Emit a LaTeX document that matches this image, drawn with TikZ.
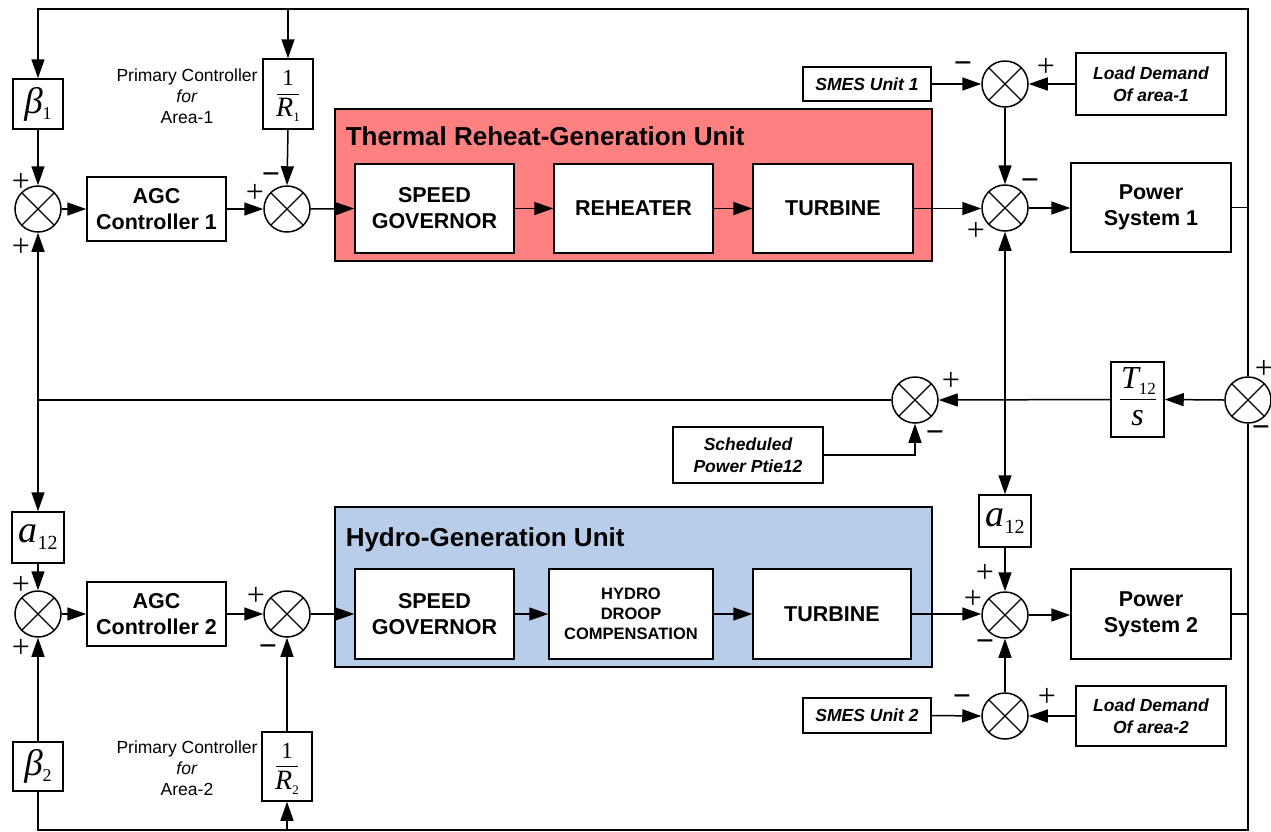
\documentclass[tikz,border=0pt]{standalone}
\usepackage{fontspec}
\setmainfont{Liberation Sans}
\newfontfamily\serif{Liberation Serif}
\usetikzlibrary{arrows.meta,calc}
\definecolor{thermal}{HTML}{FF8080}
\definecolor{hydro}{HTML}{B8CDEA}
\begin{document}
\begin{tikzpicture}[x=1pt,y=-1pt,line width=1.5pt,
  blk/.style={draw,fill=white,inner sep=0pt,align=center,font=\fontsize{21.5}{26}\selectfont\bfseries},
  smallblk/.style={blk,font=\fontsize{16.5}{20}\selectfont\bfseries},
  ibox/.style={draw,fill=white,inner sep=0pt,align=center,font=\fontsize{17.5}{22}\selectfont\bfseries\itshape},
  mbox/.style={draw,fill=white,inner sep=0pt,font=\serif},
  unitbox/.style={draw,inner sep=0pt},
  unittitle/.style={anchor=base west,inner sep=0pt,font=\fontsize{26}{30}\selectfont\bfseries},
  sumj/.style={circle,draw,fill=white,minimum size=46pt,inner sep=0pt,
    path picture={\draw[line width=1.2pt] (path picture bounding box.north west) -- (path picture bounding box.south east)
      (path picture bounding box.north east) -- (path picture bounding box.south west);}},
  arr/.style={-{Triangle[length=19pt,width=13pt]}},
  sgn/.style={inner sep=0pt,font=\serif\fontsize{32}{32}\selectfont},
  msgn/.style={sgn,font=\serif\bfseries\fontsize{32}{32}\selectfont},
  note/.style={align=center,inner sep=0pt,font=\fontsize{17.5}{21}\selectfont},
  fracline/.style={line width=0.9pt}
]
\useasboundingbox (0,0) rectangle (1271,831);
\fill[white] (0,0) rectangle (1271,831);

% generation unit backgrounds
\node[unitbox,fill=thermal,minimum width=597pt,minimum height=152pt] (thu) at (633.5,185) {};
\node[unitbox,fill=hydro,minimum width=597pt,minimum height=160pt] (hyu) at (633.5,587) {};
\node[unittitle] (tht) at (345,145) {Thermal Reheat-Generation Unit};
\node[unittitle] (hyt) at (345,546) {Hydro-Generation Unit};

% ---------------- Area 1 ----------------
\node[mbox,minimum width=50pt,minimum height=50pt] (b1) at (38,104) {\fontsize{37}{37}\selectfont\itshape β\upshape\raisebox{-6pt}{\fontsize{18}{18}\selectfont 1}};
\node[mbox,minimum width=50pt,minimum height=70pt] (r1) at (288,94) {};
\node[inner sep=0pt,font=\serif\fontsize{23}{23}\selectfont] (r1n) at ([yshift=16pt]r1.center) {1};
\node[inner sep=0pt,font=\serif\fontsize{28}{28}\selectfont] (r1d) at ([yshift=-16pt]r1.center) {\itshape R\upshape\raisebox{-5pt}{\fontsize{13}{13}\selectfont 1}};
\draw[fracline] ([xshift=-11pt]r1.center) -- ([xshift=11pt]r1.center);
\node[note] (pc1) at (187,96) {Primary Controller\\\textit{for}\\Area-1};

\node[sumj] (s1) at (38,209) {};
\node[blk,minimum width=139pt,minimum height=64pt] (agc1) at (156.5,209) {AGC\\Controller 1};
\node[sumj] (s2) at (287,209) {};
\node[blk,minimum width=159pt,minimum height=89pt] (sg1) at (434.5,208.5) {SPEED\\GOVERNOR};
\node[blk,minimum width=159pt,minimum height=89pt] (rh) at (633.5,208.5) {REHEATER};
\node[blk,minimum width=160pt,minimum height=89pt] (tb1) at (833,208.5) {TURBINE};
\node[sumj] (s3) at (1005,208) {};
\node[blk,minimum width=160pt,minimum height=89pt] (ps1) at (1151,207.5) {Power\\System 1};
\node[sumj] (s4) at (1005,84) {};
\node[ibox,minimum width=128pt,minimum height=34pt] (sm1) at (867,84) {SMES Unit 1};
\node[ibox,minimum width=150pt,minimum height=62pt] (ld1) at (1151,84) {Load Demand\\Of area-1};

% ---------------- tie line ----------------
\node[sumj] (rs) at (1248,400) {};
\node[mbox,minimum width=53pt,minimum height=75pt] (t12) at (1137.5,399.5) {};
\node[inner sep=0pt,font=\serif\fontsize{32}{32}\selectfont] (t12n) at ([yshift=18pt,xshift=1pt]t12.center) {\itshape T\upshape\raisebox{-6pt}{\fontsize{17}{17}\selectfont 12}};
\node[inner sep=0pt,font=\serif\fontsize{32}{32}\selectfont] (t12d) at ([yshift=-19pt]t12.center) {\itshape s};
\draw[fracline] ([xshift=-18pt]t12.center) -- ([xshift=18pt]t12.center);
\node[sumj] (s9) at (915,400) {};
\node[ibox,minimum width=150pt,minimum height=56pt] (sch) at (748,455) {Scheduled\\Power Ptie12};

% ---------------- Area 2 ----------------
\node[mbox,minimum width=52pt,minimum height=51pt] (a12l) at (38,537.5) {\fontsize{38}{38}\selectfont\itshape a\upshape\raisebox{-7pt}{\fontsize{20}{20}\selectfont 12}};
\node[sumj] (s5) at (38,614) {};
\node[blk,minimum width=139pt,minimum height=64pt] (agc2) at (156.5,614) {AGC\\Controller 2};
\node[sumj] (s6) at (287,614) {};
\node[blk,minimum width=159pt,minimum height=90pt] (sg2) at (434.5,614) {SPEED\\GOVERNOR};
\node[smallblk,minimum width=164pt,minimum height=90pt] (hd) at (631,614) {HYDRO\\DROOP\\COMPENSATION};
\node[blk,minimum width=158pt,minimum height=90pt] (tb2) at (832,614) {TURBINE};
\node[sumj] (s7) at (1005,615) {};
\node[mbox,minimum width=52pt,minimum height=52pt] (a12r) at (1005,521) {\fontsize{38}{38}\selectfont\itshape a\upshape\raisebox{-7pt}{\fontsize{20}{20}\selectfont 12}};
\node[blk,minimum width=160pt,minimum height=90pt] (ps2) at (1151,614) {Power\\System 2};
\node[sumj] (s8) at (1005,716) {};
\node[ibox,minimum width=128pt,minimum height=35pt] (sm2) at (867,715.5) {SMES Unit 2};
\node[ibox,minimum width=150pt,minimum height=60pt] (ld2) at (1151,716) {Load Demand\\Of area-2};
\node[mbox,minimum width=50pt,minimum height=49pt] (b2) at (38,766.5) {\fontsize{37}{37}\selectfont\itshape β\upshape\raisebox{-6pt}{\fontsize{18}{18}\selectfont 2}};
\node[mbox,minimum width=50pt,minimum height=69pt] (r2) at (287,766.5) {};
\node[inner sep=0pt,font=\serif\fontsize{23}{23}\selectfont] (r2n) at ([yshift=16pt]r2.center) {1};
\node[inner sep=0pt,font=\serif\fontsize{28}{28}\selectfont] (r2d) at ([yshift=-16pt]r2.center) {\itshape R\upshape\raisebox{-5pt}{\fontsize{13}{13}\selectfont 2}};
\draw[fracline] ([xshift=-11pt]r2.center) -- ([xshift=11pt]r2.center);
\node[note] (pc2) at (187,768) {Primary Controller\\\textit{for}\\Area-2};

% frame coordinates
\coordinate (tl) at (38,9);
\coordinate (tr) at (1250,9);
\coordinate (bl) at (38,830);
\coordinate (br) at (1250,830);
\coordinate (lj) at (38,400);
\coordinate (vj) at (1005,400);

% ---------------- connectors area 1 ----------------
\draw[arr] (rs.north) -- (rs.north |- tr) -- (tl) -- (b1.north);
\draw[arr] (r1.north |- tl) -- (r1.north);
\draw (ps1.east) -- (ps1.east -| rs);
\draw[arr] (b1.south) -- (s1.north);
\draw[arr] (s1.east) -- (agc1.west);
\draw[arr] (agc1.east) -- (s2.west);
\draw[arr] (r1.south) -- (s2.north);
\draw[arr] (s2.east) -- (sg1.west);
\draw[arr] (sg1.east) -- (rh.west);
\draw[arr] (rh.east) -- (tb1.west);
\draw[arr] (tb1.east) -- (tb1.east -| s3.west);
\draw[arr] (s3.east) -- (s3.east -| ps1.west);
\draw[arr] (sm1.east) -- (s4.west);
\draw[arr] (ld1.west) -- (s4.east);
\draw[arr] (s4.south) -- (s3.north);

% ---------------- tie line connectors ----------------
\draw[arr] (rs.west) -- (t12.east);
\draw[arr] (t12.west) -- (s9.east);
\draw[arr] (vj) -- (s3.south);
\draw[arr] (vj) -- (a12r.north);
\draw[arr] (sch.east) -| (s9.south);
\draw (s9.west) -- (lj);
\draw[arr] (lj) -- (s1.south);
\draw[arr] (lj) -- (a12l.north);

% ---------------- connectors area 2 ----------------
\draw[arr] (a12l.south) -- (s5.north);
\draw[arr] (b2.north) -- (s5.south);
\draw[arr] (s5.east) -- (agc2.west);
\draw[arr] (agc2.east) -- (s6.west);
\draw[arr] (r2.north) -- (s6.south);
\draw[arr] (s6.east) -- (sg2.west);
\draw[arr] (sg2.east) -- (hd.west);
\draw[arr] (hd.east) -- (tb2.west);
\draw[arr] (tb2.east) -- (tb2.east -| s7.west);
\draw[arr] (a12r.south) -- (s7.north);
\draw[arr] (s7.east) -- (s7.east -| ps2.west);
\draw[arr] (sm2.east) -- (s8.west);
\draw[arr] (ld2.west) -- (s8.east);
\draw[arr] (s8.north) -- (s7.south);
\draw (ps2.east) -- (ps2.east -| rs);
\draw (rs.south) -- (rs.south |- br) -- (bl) -- (b2.south);
\draw[arr] (r2.south |- bl) -- (r2.south);

% ---------------- signs ----------------
\node[sgn] (p1a) at (21,182) {+};
\node[sgn] (p1b) at (21,247) {+};
\node[sgn] (p2a) at (255,193) {+};
\node[msgn] (m2a) at (271,179) {−};
\node[msgn] (m3a) at (1030,185) {−};
\node[sgn] (p3a) at (976,231) {+};
\node[msgn] (m4a) at (963,68) {−};
\node[sgn] (p4a) at (1046,67) {+};
\node[sgn] (p9a) at (951,381) {+};
\node[msgn] (m9a) at (935,437) {−};
\node[sgn] (prs) at (1264,369) {+};
\node[msgn] (mrs) at (1261,432) {−};
\node[sgn] (p5a) at (21,585) {+};
\node[sgn] (p5b) at (21,648) {+};
\node[sgn] (p6a) at (256,596) {+};
\node[msgn] (m6a) at (268,651) {−};
\node[sgn] (p7a) at (985,573) {+};
\node[sgn] (p7b) at (973,599) {+};
\node[msgn] (m7a) at (985,646) {−};
\node[msgn] (m8a) at (962,701) {−};
\node[sgn] (p8a) at (1047,697) {+};
\end{tikzpicture}
\end{document}
